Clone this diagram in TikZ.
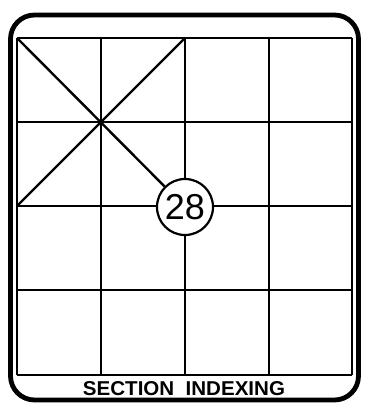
\documentclass[tikz,border=0pt]{standalone}
\usepackage{fontspec}
\setmainfont{Liberation Sans}
\usepackage{graphicx}
\begin{document}
\begin{tikzpicture}[x=1pt,y=-1pt,
  frame/.style={line width=4.8pt, rounded corners=24pt},
  gridline/.style={line width=2.4pt},
  numcircle/.style={circle, draw, line width=2.2pt, fill=white, minimum size=56pt, inner sep=0pt, font=\fontsize{36}{36}\selectfont},
  title/.style={inner sep=0pt, font=\bfseries\fontsize{19}{19}\selectfont}]
\useasboundingbox (0,0) rectangle (369,412);
\draw[frame] (10.5,15) rectangle (358.5,400);
% grid
\foreach \x in {17,101,185,269,352} \draw[gridline] (\x,38) -- (\x,375);
\foreach \y in {38,122,206,290,375} \draw[gridline] (17,\y) -- (352,\y);
\coordinate (tl) at (17,38);
\coordinate (tr) at (185,38);
\coordinate (bl) at (17,206);
\node[numcircle] (c) at (185,207) {28};
\draw[gridline] (tl) -- (c);
\draw[gridline] (tr) -- (bl);
\node[title] (t) at (184,389) {\resizebox{202pt}{14pt}{SECTION\ \ INDEXING}};
\end{tikzpicture}
\end{document}
